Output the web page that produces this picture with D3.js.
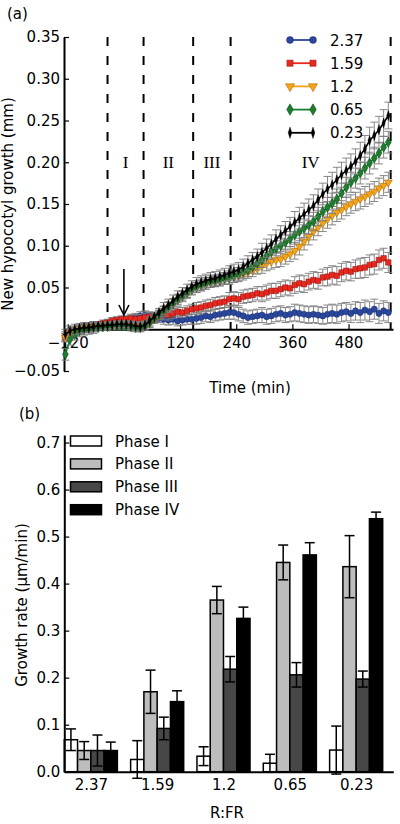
<!DOCTYPE html>
<html><head><meta charset="utf-8">
<script src="https://cdn.jsdelivr.net/npm/d3@7"></script>
<style>body{margin:0;background:#fff} svg{display:block} text{font-family:"DejaVu Sans",sans-serif}</style>
</head><body><svg id="c" width="400" height="824"></svg>
<script>
// ---------- panel (a) data ----------
const times = [-125,-115,-105,-95,-85,-75,-65,-55,-45,-35,-25,-15,-5,5,15,25,35,45,55,65,75,85,95,105,115,125,135,145,155,165,175,185,195,205,215,225,235,245,255,265,275,285,295,305,315,325,335,345,355,365,375,385,395,405,415,425,435,445,455,465,475,485,495,505,515,525,535,545,555,565];
const g237 = [-0.008,-0.005,-0.003,-0.001,0.001,0.002,0.003,0.004,0.005,0.006,0.008,0.009,0.010,0.011,0.012,0.014,0.016,0.017,0.016,0.014,0.013,0.012,0.011,0.012,0.010,0.011,0.012,0.012,0.013,0.014,0.016,0.015,0.017,0.018,0.019,0.020,0.020,0.018,0.016,0.014,0.015,0.016,0.017,0.015,0.016,0.018,0.019,0.017,0.018,0.020,0.019,0.018,0.017,0.018,0.017,0.016,0.018,0.019,0.018,0.020,0.021,0.019,0.022,0.020,0.023,0.021,0.024,0.019,0.022,0.020];
const g159 = [-0.010,-0.006,-0.003,-0.001,0.001,0.003,0.004,0.005,0.007,0.008,0.010,0.011,0.012,0.012,0.013,0.012,0.013,0.014,0.015,0.013,0.016,0.018,0.017,0.019,0.021,0.020,0.022,0.024,0.025,0.026,0.028,0.029,0.031,0.032,0.033,0.036,0.037,0.036,0.039,0.040,0.041,0.043,0.042,0.044,0.046,0.046,0.048,0.050,0.049,0.053,0.055,0.054,0.057,0.059,0.058,0.062,0.063,0.065,0.064,0.068,0.070,0.069,0.072,0.073,0.074,0.077,0.078,0.083,0.085,0.080];
const g120 = [-0.010,-0.004,-0.002,0.000,0.001,0.002,0.002,0.003,0.003,0.004,0.004,0.005,0.005,0.005,0.004,0.004,0.003,0.004,0.007,0.012,0.017,0.021,0.026,0.030,0.035,0.039,0.043,0.047,0.050,0.052,0.054,0.056,0.057,0.058,0.060,0.061,0.063,0.064,0.066,0.068,0.070,0.073,0.076,0.079,0.081,0.083,0.084,0.087,0.090,0.094,0.099,0.105,0.111,0.117,0.122,0.127,0.132,0.136,0.140,0.143,0.147,0.150,0.153,0.156,0.159,0.162,0.165,0.169,0.172,0.176];
const g065 = [-0.030,-0.012,-0.006,-0.002,0.000,0.001,0.002,0.002,0.003,0.003,0.004,0.004,0.004,0.004,0.003,0.002,0.002,0.004,0.008,0.013,0.018,0.022,0.027,0.031,0.036,0.040,0.044,0.048,0.051,0.053,0.055,0.057,0.058,0.059,0.061,0.062,0.064,0.066,0.069,0.071,0.075,0.079,0.083,0.088,0.093,0.097,0.100,0.104,0.108,0.113,0.117,0.121,0.125,0.129,0.135,0.141,0.146,0.151,0.156,0.163,0.170,0.176,0.181,0.187,0.193,0.199,0.205,0.211,0.218,0.224];
const g023 = [-0.006,-0.002,0.000,0.001,0.002,0.002,0.003,0.004,0.004,0.005,0.005,0.006,0.006,0.006,0.005,0.004,0.003,0.005,0.010,0.015,0.020,0.025,0.029,0.034,0.039,0.043,0.047,0.051,0.054,0.056,0.058,0.060,0.061,0.063,0.065,0.067,0.069,0.071,0.075,0.079,0.083,0.087,0.092,0.097,0.102,0.108,0.113,0.118,0.123,0.128,0.133,0.138,0.143,0.148,0.155,0.162,0.168,0.173,0.179,0.185,0.190,0.195,0.201,0.208,0.216,0.226,0.232,0.239,0.247,0.256];
// standard error per 70-min block (7 samples each)
const e237 = [0.005,0.004,0.005,0.006,0.007,0.008,0.009,0.010,0.011,0.012];
const e159 = [0.005,0.004,0.005,0.006,0.007,0.008,0.009,0.010,0.011,0.012];
const e120 = [0.005,0.004,0.005,0.006,0.006,0.007,0.009,0.010,0.011,0.012];
const e065 = [0.007,0.004,0.005,0.006,0.007,0.008,0.009,0.011,0.012,0.013];
const e023 = [0.006,0.004,0.005,0.007,0.008,0.009,0.011,0.013,0.015,0.016];
const seriesLabels = ["2.37","1.59","1.2","0.65","0.23"];
const phaseBounds = [-35, 42, 148, 228, 570];
const phaseNames = ["I","II","III","IV"];
const xTicksA = [-120,120,240,360,480];
const yTicksA = [-0.05,0.05,0.10,0.15,0.20,0.25,0.30,0.35];
const lightOn = 0;

// ---------- panel (b) data ----------
const ratios = ["2.37","1.59","1.2","0.65","0.23"];
const phases = ["Phase I","Phase II","Phase III","Phase IV"];
const phaseI   = [0.068,0.026,0.033,0.018,0.046];
const phaseII  = [0.045,0.170,0.365,0.445,0.436];
const phaseIII = [0.045,0.092,0.218,0.206,0.197];
const phaseIV  = [0.045,0.149,0.326,0.461,0.538];
const phaseIErr   = [0.023,0.040,0.020,0.019,0.051];
const phaseIIErr  = [0.019,0.046,0.029,0.037,0.066];
const phaseIIIErr = [0.033,0.024,0.027,0.026,0.017];
const phaseIVErr  = [0.018,0.023,0.024,0.026,0.014];
const yTicksB = [0,0.1,0.2,0.3,0.4,0.5,0.6,0.7];

const svg = d3.select("#c");

// ================= panel (a) =================
const xA = d3.scaleLinear().domain([-128, 575]).range([64, 393]);
const yA = d3.scaleLinear().domain([-0.05, 0.35]).range([371, 37]);

svg.append("text").attr("x", 7).attr("y", 19).attr("font-size", 15).text("(a)");

// dashed phase lines
svg.append("g").selectAll("line").data(phaseBounds).join("line")
  .attr("x1", d => xA(d)).attr("x2", d => xA(d))
  .attr("y1", yA(0.35)).attr("y2", yA(0))
  .attr("stroke", "#000").attr("stroke-width", 2).attr("stroke-dasharray", "9,10");

// phase labels
svg.append("g").selectAll("text").data(phaseNames).join("text")
  .attr("x", (d,i) => xA((phaseBounds[i] + phaseBounds[i+1]) / 2))
  .attr("y", yA(0.20) + 6)
  .attr("text-anchor", "middle").attr("font-size", 17)
  .style("font-family", '"Liberation Serif", "DejaVu Serif", serif')
  .text(d => d);

// axes
const axA_y = svg.append("g").attr("transform", `translate(${xA(-128)},0)`)
  .call(d3.axisLeft(yA).tickValues(yTicksA).tickSizeInner(-5).tickSizeOuter(0).tickPadding(4)
        .tickFormat(d => d3.format(".2f")(d).replace("-", "\u2212")));
const axA_x = svg.append("g").attr("transform", `translate(0,${yA(0)})`)
  .call(d3.axisBottom(xA).tickValues(xTicksA).tickSizeInner(-5).tickSizeOuter(0).tickPadding(8)
        .tickFormat(d => String(d).replace("-", "\u2212")));
[axA_y, axA_x].forEach(g => {
  g.select(".domain").attr("stroke-width", 2);
  g.selectAll("text").attr("font-size", 15).attr("fill", "#000").style("font-family", '"DejaVu Sans", sans-serif');
  g.selectAll(".tick line").attr("stroke-width", 1.2);
});

svg.append("text").attr("transform", `translate(13,${(yA(0.35)+yA(-0.05))/2}) rotate(-90)`)
  .attr("text-anchor", "middle").attr("font-size", 15).text("New hypocotyl growth (mm)");
svg.append("text").attr("x", 250).attr("y", 393).attr("text-anchor", "middle").attr("font-size", 15).text("Time (min)");

// series
const seriesDefs = [
  {vals: g237, err: e237, color: "#2a479c", edge: "#1b2f6a", sym: d3.symbolCircle, size: 30, rot: 0, sx: 1},
  {vals: g159, err: e159, color: "#e8281f", edge: "#8a1410", sym: d3.symbolSquare, size: 30, rot: 0, sx: 1},
  {vals: g120, err: e120, color: "#f5a319", edge: "#9a6200", sym: d3.symbolTriangle, size: 28, rot: 180, sx: 1},
  {vals: g065, err: e065, color: "#1c7d2c", edge: "#0d4216", sym: d3.symbolDiamond, size: 30, rot: 0, sx: 1},
  {vals: g023, err: e023, color: "#000000", edge: "#000000", sym: d3.symbolDiamond, size: 30, rot: 0, sx: 0.55}
];
const line = d3.line().x(d => xA(d[0])).y(d => yA(d[1]));

seriesDefs.forEach((s, k) => {
  const pts = times.map((t, i) => [t, s.vals[i], s.err[Math.floor(i / 7)]]);
  const g = svg.append("g");
  // error bars
  const eb = g.append("g").attr("stroke", "#7a7a7a").attr("stroke-width", 0.9);
  pts.forEach(p => {
    const x = xA(p[0]);
    eb.append("line").attr("x1", x).attr("x2", x).attr("y1", yA(p[1] - p[2])).attr("y2", yA(p[1] + p[2]));
    eb.append("line").attr("x1", x - 4).attr("x2", x + 4).attr("y1", yA(p[1] - p[2])).attr("y2", yA(p[1] - p[2]));
    eb.append("line").attr("x1", x - 4).attr("x2", x + 4).attr("y1", yA(p[1] + p[2])).attr("y2", yA(p[1] + p[2]));
  });
  g.append("path").datum(pts).attr("d", line).attr("fill", "none")
    .attr("stroke", s.color).attr("stroke-width", 1.6);
  g.selectAll("path.m").data(pts).join("path").attr("class", "m")
    .attr("transform", p => `translate(${xA(p[0])},${yA(p[1])}) rotate(${s.rot}) scale(${s.sx},1)`)
    .attr("d", d3.symbol().type(s.sym).size(s.size))
    .attr("fill", s.color).attr("stroke", s.edge).attr("stroke-width", 0.5);
});

// arrow (light change)
const ax = xA(lightOn);
svg.append("line").attr("x1", ax).attr("x2", ax).attr("y1", 269).attr("y2", 314).attr("stroke", "#000").attr("stroke-width", 1.6);
svg.append("path").attr("d", `M${ax-5},${305} L${ax},${315} L${ax+5},${305}`).attr("fill", "none").attr("stroke", "#000").attr("stroke-width", 1.6);

// legend (a)
const legA = svg.append("g");
seriesDefs.forEach((s, k) => {
  const y = 40 + k * 23.2;
  legA.append("line").attr("x1", 290).attr("x2", 313).attr("y1", y).attr("y2", y).attr("stroke", s.color).attr("stroke-width", 1.8);
  [290, 313].forEach(x => legA.append("path")
    .attr("transform", `translate(${x},${y}) rotate(${s.rot}) scale(${s.sx},1)`)
    .attr("d", d3.symbol().type(s.sym).size(s.size + 8))
    .attr("fill", s.color).attr("stroke", s.edge).attr("stroke-width", 0.5));
  legA.append("text").attr("x", 330).attr("y", y + 5.5).attr("font-size", 15).text(seriesLabels[k]);
});

// ================= panel (b) =================
const xB = d3.scaleLinear().domain([0, 4.96]).range([64.3, 393.3]);
const yB = d3.scaleLinear().domain([0, 0.716]).range([771.7, 435]);
const bw = 0.2;
const phaseVals = [phaseI, phaseII, phaseIII, phaseIV];
const phaseErrs = [phaseIErr, phaseIIErr, phaseIIIErr, phaseIVErr];
const phaseFill = ["#ffffff", "#bdbdbd", "#474747", "#000000"];

svg.append("text").attr("x", 19).attr("y", 419).attr("font-size", 15).text("(b)");

phaseVals.forEach((vals, p) => {
  const g = svg.append("g");
  g.selectAll("rect").data(vals).join("rect")
    .attr("x", (d, i) => xB(i + p * bw))
    .attr("width", xB(bw) - xB(0))
    .attr("y", d => yB(d))
    .attr("height", d => yB(0) - yB(d))
    .attr("fill", phaseFill[p]).attr("stroke", "#000").attr("stroke-width", 1.5);
});
phaseVals.forEach((vals, p) => {
  const g = svg.append("g").attr("stroke", "#000").attr("stroke-width", 1.5);
  vals.forEach((v, i) => {
    const e = phaseErrs[p][i];
    const cx = xB(i + p * bw + bw / 2);
    g.append("line").attr("x1", cx).attr("x2", cx).attr("y1", yB(v - e)).attr("y2", yB(v + e));
    g.append("line").attr("x1", cx - 5).attr("x2", cx + 5).attr("y1", yB(v - e)).attr("y2", yB(v - e));
    g.append("line").attr("x1", cx - 5).attr("x2", cx + 5).attr("y1", yB(v + e)).attr("y2", yB(v + e));
  });
});

const axB_y = svg.append("g").attr("transform", `translate(${xB(0)},0)`)
  .call(d3.axisLeft(yB).tickValues(yTicksB).tickSizeInner(-5).tickSizeOuter(0).tickPadding(4).tickFormat(d3.format(".1f")));
const axB_x = svg.append("g").attr("transform", `translate(0,${yB(0)})`)
  .call(d3.axisBottom(xB).tickValues(ratios.map((r, i) => i + 2 * bw)).tickSize(0).tickPadding(8)
        .tickFormat((d, i) => ratios[i]));
[axB_y, axB_x].forEach(g => {
  g.select(".domain").attr("stroke-width", 2);
  g.selectAll("text").attr("font-size", 15).attr("fill", "#000").style("font-family", '"DejaVu Sans", sans-serif');
  g.selectAll(".tick line").attr("stroke-width", 1.2);
});

svg.append("text").attr("transform", `translate(27,605) rotate(-90)`)
  .attr("text-anchor", "middle").attr("font-size", 15).text("Growth rate (\u00b5m/min)");
svg.append("text").attr("x", 227).attr("y", 818).attr("text-anchor", "middle").attr("font-size", 15).text("R:FR");

// legend (b)
phases.forEach((ph, k) => {
  const y = 441 + k * 22.9;
  svg.append("rect").attr("x", 70.5).attr("y", y - 5).attr("width", 31).attr("height", 10)
    .attr("fill", phaseFill[k]).attr("stroke", "#000").attr("stroke-width", 1.5);
  svg.append("text").attr("x", 115).attr("y", y + 5.5).attr("font-size", 15).text(ph);
});
</script></body></html>
